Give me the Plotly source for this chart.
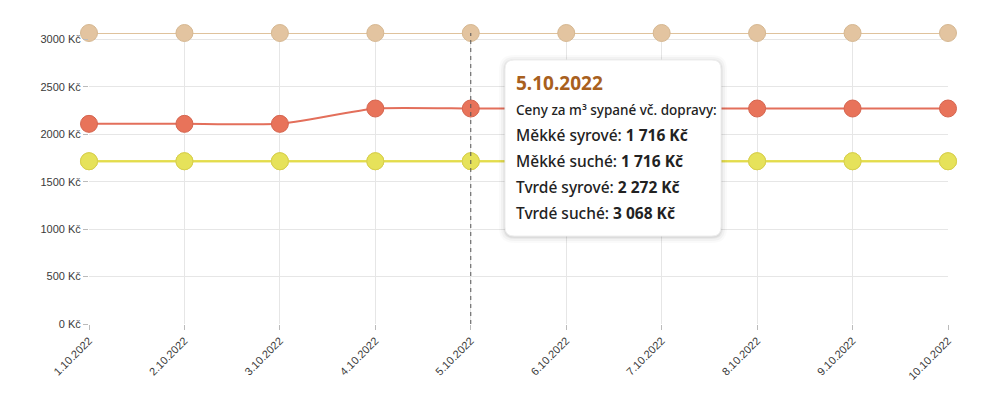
import plotly.graph_objects as go

# ---- data ----
dates = ["1.10.2022", "2.10.2022", "3.10.2022", "4.10.2022", "5.10.2022",
         "6.10.2022", "7.10.2022", "8.10.2022", "9.10.2022", "10.10.2022"]
mekke_syrove = [1716, 1716, 1716, 1716, 1716, 1716, 1716, 1716, 1716, 1716]
mekke_suche = [1716, 1716, 1716, 1716, 1716, 1716, 1716, 1716, 1716, 1716]
tvrde_syrove = [2110, 2110, 2110, 2272, 2272, 2272, 2272, 2272, 2272, 2272]
tvrde_suche = [3068, 3068, 3068, 3068, 3068, 3068, 3068, 3068, 3068, 3068]
y_ticks = [0, 500, 1000, 1500, 2000, 2500, 3000]
hover_index = 4

OFF = 8  # page offset of the figure inside the browser window
W, H = 980, 411
ML, MR, MT, MB = 81, 40, 25, 95
PW, PH = W - ML - MR, H - MT - MB


def px(x):  # window pixel -> paper
    return (x - OFF - ML) / PW


def py(y):
    return (H - MB - (y - OFF)) / PH


def fmt(v):
    return f"{v:,}".replace(",", " ") + " Kč"


fig = go.Figure()

series = [
    ("Měkké syrové", mekke_syrove, "#e6e25a", "#e3dc4c", "#d8d04e", "linear"),
    ("Měkké suché", mekke_suche, "#e6e25a", "#e3dc4c", "#d8d04e", "linear"),
    ("Tvrdé syrové", tvrde_syrove, "#e8735a", "#e36f5b", "#d5654f", "spline"),
    ("Tvrdé suché", tvrde_suche, "#e3c4a0", "#dfc29c", "#d6b892", "linear"),
]
for name, vals, fill, lcol, mline, shape in series:
    fig.add_trace(go.Scatter(
        x=dates, y=vals, name=name, mode="lines+markers",
        line=dict(color=lcol, width=2, shape=shape, smoothing=0.45),
        marker=dict(size=17, color=fill, line=dict(color=mline, width=1)),
        cliponaxis=False, hoverinfo="skip",
    ))

shapes = []
shapes.append(dict(type="line", xref="x", yref="paper", x0=dates[hover_index], x1=dates[hover_index],
                   y0=0, y1=1, line=dict(color="#555555", width=1, dash="4px,4px"), layer="above"))


def rrect(x0, y0, x1, y1, r):
    return (f"M {px(x0 + r)} {py(y0)} L {px(x1 - r)} {py(y0)} "
            f"Q {px(x1)} {py(y0)} {px(x1)} {py(y0 + r)} "
            f"L {px(x1)} {py(y1 - r)} Q {px(x1)} {py(y1)} {px(x1 - r)} {py(y1)} "
            f"L {px(x0 + r)} {py(y1)} Q {px(x0)} {py(y1)} {px(x0)} {py(y1 - r)} "
            f"L {px(x0)} {py(y0 + r)} Q {px(x0)} {py(y0)} {px(x0 + r)} {py(y0)} Z")


bx0, by0, bx1, by1 = 505, 60, 721, 236
for d, a in [(6, 0.02), (4, 0.03), (2, 0.04), (1, 0.05)]:
    shapes.append(dict(type="path", xref="paper", yref="paper",
                       path=rrect(bx0 - d, by0 - d + 1, bx1 + d, by1 + d + 1, 9 + d),
                       fillcolor=f"rgba(0,0,0,{a})", line=dict(width=0), layer="above"))
shapes.append(dict(type="path", xref="paper", yref="paper", path=rrect(bx0, by0, bx1, by1, 9),
                   fillcolor="white", line=dict(color="#eeeeee", width=1), layer="above"))

TF = "Noto Sans"
tx = 514
ann = [dict(text=f"<b>{dates[hover_index]}</b>", x=px(tx), y=py(83), size=19, color="#a8601e", w=400),
       dict(text="Ceny za m³ sypané vč. dopravy:", x=px(tx), y=py(110), size=13.5, color="#222222", w=500)]
lines = [("Měkké syrové", mekke_syrove), ("Měkké suché", mekke_suche),
         ("Tvrdé syrové", tvrde_syrove), ("Tvrdé suché", tvrde_suche)]
for i, (n, vals) in enumerate(lines):
    ann.append(dict(text=f"{n}: <b>{fmt(vals[hover_index])}</b>", x=px(tx), y=py(135 + 26 * i),
                    size=15.5, color="#222222", w=500))
annotations = [dict(text=a["text"], x=a["x"], y=a["y"], xref="paper", yref="paper",
                    xanchor="left", yanchor="middle", showarrow=False,
                    font=dict(family=TF, size=a["size"], color=a["color"], weight=a["w"])) for a in ann]

fig.update_layout(
    width=W, height=H, margin=dict(l=ML, r=MR, t=MT, b=MB),
    paper_bgcolor="white", plot_bgcolor="white", showlegend=False,
    font=dict(family="Liberation Sans, Arial, sans-serif", size=11, color="#3a3a3a"),
    shapes=shapes, annotations=annotations,
    xaxis=dict(type="category", range=[0, len(dates) - 1], showgrid=True, gridcolor="#e6e6e6",
               tickangle=-45, ticks="outside", ticklen=5, tickcolor="#bbbbbb",
               showline=False, zeroline=False, fixedrange=True),
    yaxis=dict(range=[0, max(tvrde_suche)], tickvals=y_ticks, ticktext=[f"{v} Kč" for v in y_ticks],
               showgrid=True, gridcolor="#e6e6e6", ticks="outside", ticklen=5, tickcolor="#bbbbbb",
               showline=False, zeroline=False, fixedrange=True),
)

fig.write_html("out.html")
